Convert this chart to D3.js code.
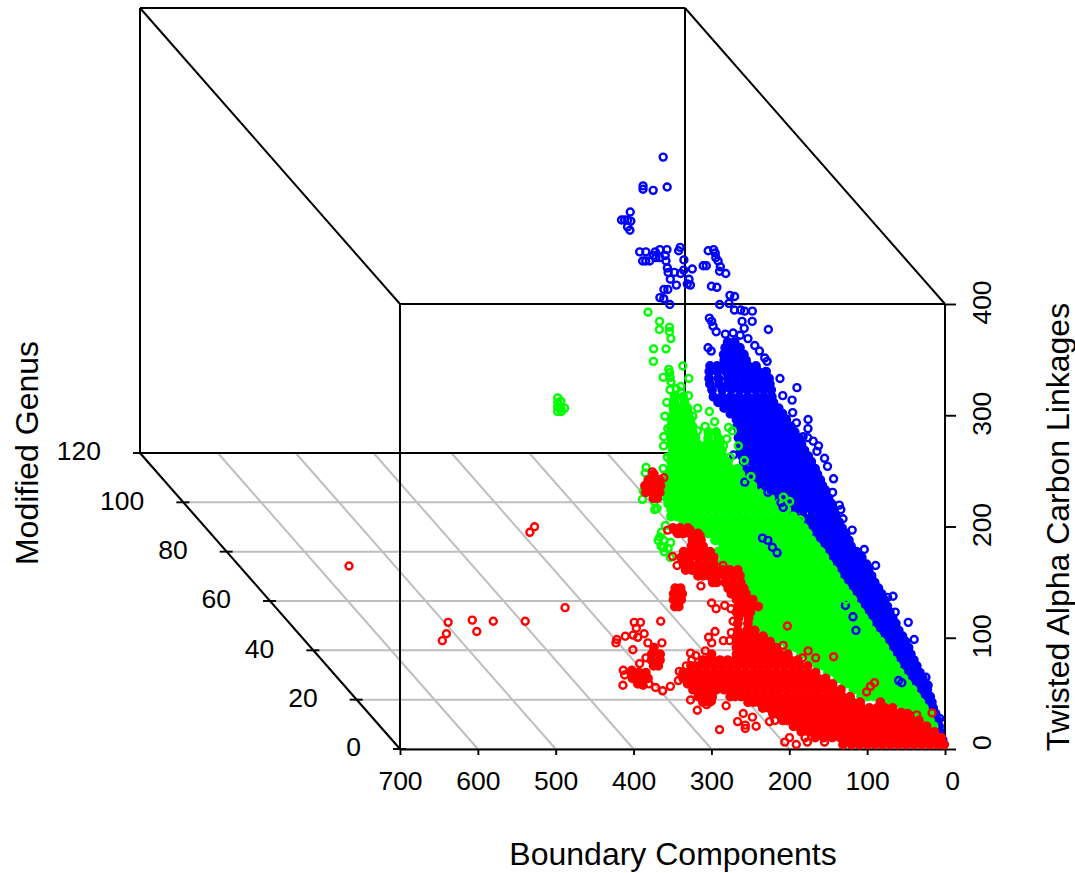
<!DOCTYPE html>
<html lang="en">
<head>
    <meta charset="UTF-8">
    <title>Boundary Components, Modified Genus, Twisted Alpha Carbon Linkages</title>
    <style>
        body {
            margin: 0;
            padding: 0;
            background-color: #fff;
        }

        text {
            font-family: "Liberation Sans", Arial, sans-serif;
            fill: #000;
        }

        .axis path {
            stroke: #000;
            stroke-width: 1.9;
        }

        .axis line {
            stroke: #000;
            stroke-width: 1.9;
        }

        .axis text {
            font-size: 26.5px;
        }

        .title {
            font-size: 32px;
        }
    </style>
</head>
<body>

<svg width="1075" height="873" id="graph"></svg>

<script src="https://d3js.org/d3.v7.min.js"></script>
<script>
    const boundaryTicks = [0, 100, 200, 300, 400, 500, 600, 700];
    const genusTicks = [0, 20, 40, 60, 80, 100, 120];
    const linkageTicks = [0, 100, 200, 300, 400];

    // Single points: [boundary, genus, linkages]
    const bluePoints = [
        [195,60,399],[232,56,382],[232,56,379],[201,56,381],[219,56,378],[254,54,363],[268,53,358],[264,53,358],
        [260,53,358],[256,53,357],[263,52,354],[260,52,351],[253,50,336],[245,50,336],[238,49,335],[233,50,336],
        [227,50,338],[218,50,338],[252,49,330],[248,49,330],[243,49,330],[235,49,333],[230,49,333],[223,49,335],
        [222,49,330],[223,48,326],[222,48,322],[222,47,318],[214,48,322],[201,50,340],[203,50,337],[199,49,331],
        [202,48,324],[191,48,325],[206,48,321],[198,47,318],[199,46,315],[203,46,316],[217,46,315],[233,46,311],
        [228,46,311],[241,45,306],[236,45,305],[231,44,302],[165,50,337],[158,50,338],[156,50,335],[158,49,333],
        [155,49,330],[155,48,327],[156,48,323],[177,48,328],[173,48,328],[148,48,321],[172,46,314],[165,46,313],
        [151,45,308],[145,45,307],[167,44,302],[155,44,303],[148,44,297],[140,44,297],[135,44,296],[125,44,296],
        [110,42,284],[141,43,289],[141,42,285],[128,43,289],[183,43,292],[180,43,289],[181,42,287],[177,42,282],
        [193,40,272],[189,40,269],[168,41,282],[158,41,283],[149,41,281],[139,41,278],[133,40,274],[127,40,269],
        [123,39,265],[120,39,262],[90,36,245],[99,35,236],[101,34,227],[99,33,220],[84,33,223],[87,32,217],
        [96,31,212],[90,31,211],[83,31,208],[79,30,206],[81,30,201],[74,29,197],[73,28,192],[68,27,183],
        [72,26,173],[69,24,166],[67,24,162],[67,23,156],[32,15,103],[25,14,92],[11,13,85],[9,11,74],
        [5,7,49],[5,6,44],[1,2,23],[0,1,6],[109,37,251],[111,35,240],[89,28,189],[81,26,175],
        [58,22,148],[48,20,135],[39,18,125],[25,15,104]
    ];

    // Blue points that show through the green mass
    const blueOver = [
        [155,26,173],[151,26,175],[159,26,179],[141,24,164],[141,25,166],[176,21,143],[169,21,141],[166,20,137],
        [160,20,132],[89,14,98],[82,13,90],[81,12,80],[36,7,44],[40,7,46],[191,29,200],[176,31,205],[182,27,180]
    ];

    const greenPoints = [
        [259,44,295],[247,43,289],[250,42,284],[237,42,286],[237,42,282],[238,41,278],[263,40,271],[247,40,271],
        [266,39,262],[249,38,257],[231,38,260],[250,37,252],[259,37,252],[226,37,251],[248,38,254],[249,37,248],
        [239,36,246],[253,36,243],[260,35,234],[239,36,241],[240,34,234],[223,34,231],[208,34,228],[204,33,221],
        [189,32,218],[184,32,215],[275,31,212],[267,32,217],[229,32,215],[194,31,210],[235,30,203],[182,30,206],
        [195,29,198],[177,29,195],[276,29,198],[306,28,191],[307,28,186],[284,28,190],[278,27,183],[315,26,174],
        [319,25,169],[306,24,162],[303,24,163],[304,25,167],[303,22,146],[310,21,141],[306,20,137],[294,21,139],
        [300,19,130],[305,20,133],[308,21,144],[303,21,141],[309,20,138],[300,20,136],[138,25,171],[130,25,167],
        [122,23,155],[112,21,139],[98,18,121],[89,17,112],[85,15,101],
        [400,35,238],[400,35,234],[396,35,235],[394,34,231],[403,34,228],[398,34,228],[403,34,232],[399,34,231],
        [245,36,244],[232,35,240],[268,33,226],[232,33,226],[278,30,206],[219,32,219],[201,30,206],[203,28,189],
        [174,27,185],[297,27,182],[295,25,172],[298,22,152]
    ];

    const redPoints = [
        [682,30,98],[466,22,151],[472,22,146],[449,14,96],[503,13,86],[544,13,86],[571,13,87],[568,12,79],
        [602,13,85],[607,12,77],[615,11,73],[329,13,86],[363,13,85],[355,13,85],[363,12,82],[353,12,77],
        [380,11,77],[391,11,74],[392,11,71],[370,11,78],[364,11,76],[373,10,67],[351,11,71],[333,11,71],
        [359,9,62],[370,8,59],[391,8,53],[392,7,51],[397,6,44],[380,8,53],[371,6,44],[361,7,43],
        [355,6,42],[346,6,39],[336,6,43],[323,7,46],[319,8,52],[310,8,57],[300,9,60],[299,10,64],
        [295,9,64],[280,10,66],[273,11,76],[262,12,79],[269,11,71],[254,11,73],[246,11,73],[258,15,98],
        [255,14,95],[236,14,95],[236,13,86],[241,12,78],[295,4,31],[258,3,18],[248,4,23],[239,3,22],
        [251,2,17],[251,2,14],[284,2,13],[203,1,4],[197,1,8],[191,0,4],[210,3,19],[174,1,4],
        [152,1,4],[148,10,66],[158,9,62],[141,9,62],[118,9,63],[11,2,28],[28,3,24],[169,12,84],
        [180,10,71],[79,6,43],[84,6,38],[71,7,44],[45,4,24],[298,28,187],[286,27,184],[286,22,148],
        [295,22,148],[266,22,148],[256,21,145],[297,19,131],[294,18,125],[269,16,111],[235,18,125],[244,14,98],
        [313,5,33],[307,4,26],[286,5,32],[270,4,30],[237,2,16],[217,3,18],[177,1,8]
    ];

    // Where the points pile up they merge into a solid mass, so those are kept in bins:
    // one genus and linkage per bin, and the boundary values found in that bin per series
    const binGenus = [
        0,1,2,2,3,4,4,5,5,6,7,7,8,8,9,10,10,11,11,12,13,13,14,14,15,16,16,17,17,18,19,19,20,20,
        21,22,22,23,23,24,25,25,26,26,27,28,28,29,29,30,31,31,32,32,33,34,34,35,35,36,37,37,38,38,39,40,40,41
    ];
    const binLinkages = [
        4,8,11,16,19,23,28,31,36,40,43,48,51,57,60,63,69,72,77,80,84,89,92,97,101,104,109,112,118,121,124,130,133,138,
        141,145,150,153,158,162,165,170,173,179,182,185,190,194,199,202,205,211,214,219,223,226,231,234,239,243,246,251,255,260,263,266,272,275
    ];

    const blueDense = [
        [],
        [2,8],
        [1,10],
        [2,12],
        [1,9,15],
        [1,9,16],
        [4,12,19],
        [3,11,19],
        [5,14,23],
        [6,16,27],
        [5,14,23,32],
        [9,19,29,39],
        [10,20,31,42],
        [14,24,35,47],
        [15,25,35,44,52],
        [16,26,36,45,54],
        [19,29,39,49,59],
        [20,30,41,51,61],
        [24,34,44,54,63,68],
        [26,36,46,56,65,70],
        [27,37,47,57,66,72],
        [31,40,50,60,69,77],
        [32,42,52,61,71,79],
        [35,45,55,64,74,83],
        [36,46,56,66,75,84],
        [37,47,57,66,75,83],
        [41,51,60,70,79,87],
        [43,53,62,71,80,89],
        [47,56,65,74,83,92],
        [48,57,66,75,83,91],
        [48,57,66,75,84,93],
        [54,63,72,81,90,99],
        [58,67,76,85,94,102],
        [65,74,83,91,100,108],
        [65,74,83,92,101,110],
        [66,75,84,93,102,110],
        [71,80,89,98,107,116],
        [72,82,92,102,112,121],
        [76,86,96,107,118,129],
        [76,86,96,105,115,124,133],
        [76,85,94,103,112,121,130,139],
        [80,90,100,110,119,129,139,148],
        [81,90,99,108,117,127,137,146,155],
        [85,94,103,112,121,130,139,148,157,166],
        [85,94,103,112,121,130,140,150,160,170],
        [86,96,105,115,125,135,145,155,165,175],
        [89,99,109,119,129,139,149,159,169,180],
        [91,101,111,120,129,138,148,158,168,178],
        [95,105,115,124,133,142,152,162,171,180],
        [97,107,116,125,134,143,152,161,170,179],
        [98,108,117,126,135,144,153,162,170,177],
        [101,111,120,129,138,147,156,165,172,179],
        [104,113,122,131,140,149,158,167,176],
        [109,118,127,136,145,153,161,170,178],
        [112,122,132,141,150,159,168,176],
        [114,124,134,143,152,162,172,181],
        [119,129,139,149,159,169,179,189],
        [123,133,143,153,163,173,184,194],
        [125,135,145,156,167,178,189,200],
        [123,133,143,153,163,174,186,199],
        [122,132,142,153,164,175,187,199],
        [123,133,143,154,165,176,188,200],
        [124,134,145,156,166,176,187,197],
        [137,147,157,167,177,187,196],
        [147,156,166,175],
        [147,156,165,173],
        [152,162,171],
        [156,165]
    ];

    const greenDense = [
        [],
        [],
        [],
        [9,20],
        [11,22],
        [8,16,24],
        [16,25,34,43],
        [18,27,36,45,55,64],
        [23,32,41,50,59,68,77,86,94],
        [25,34,43,52,61,70,79,88,95,101],
        [29,38,47,56,65,74,83,92,101,109],
        [34,43,52,61,70,79,88,98,108,118],
        [36,45,54,63,72,81,90,100,110,119,128],
        [41,50,59,68,77,86,96,106,116,126,134,141],
        [43,52,61,70,79,88,98,108,118,128,138,147],
        [45,54,63,72,81,90,99,108,118,128,138,148,157],
        [50,59,68,77,86,95,104,114,124,134,144,154,164,174],
        [52,61,70,79,88,97,106,116,126,136,146,155,164,174,183],
        [58,67,76,85,94,103,112,122,132,142,152,162,172,182,192],
        [61,70,79,88,97,106,115,125,135,145,155,165,175,185,194,203],
        [63,72,81,90,99,108,118,128,138,148,158,168,178,188,197,205,211],
        [68,77,86,95,104,114,124,134,144,154,164,174,184,194,204,213],
        [70,79,88,97,106,116,126,136,146,156,166,176,186,196,205,214],
        [75,84,93,102,111,121,131,141,151,161,171,181,191,201,211,220],
        [77,86,95,105,115,125,135,145,155,165,175,185,195,205,213,220],
        [80,89,98,107,116,126,136,146,156,166,176,186,196,206,214,221],
        [85,94,103,112,122,132,142,152,162,172,182,192,202,212,221],
        [88,97,106,116,126,136,146,156,166,176,186,196,206,215],
        [93,102,112,122,132,142,152,162,172,182,192,202,212],
        [94,103,113,123,133,143,153,163,173,183,193,203,209,218,227,233],
        [97,107,117,127,137,147,157,167,177,187,197,204,209,218,227,236],
        [102,112,122,132,142,152,162,172,182,192,202,213,222,231],
        [104,114,124,134,144,154,164,174,184,194,204,213,219,228,236],
        [110,120,130,140,150,160,170,180,190,200,210,220,229],
        [113,123,133,143,153,163,173,183,193,203,213,223,231,237],
        [115,125,135,145,155,165,175,185,195,205,215,225,235,243,250],
        [120,130,140,150,160,170,180,190,200,210,220,230,240,250,257,263],
        [125,135,145,155,165,175,185,195,205,215,225,235,245,255,264,272],
        [131,141,151,161,171,181,191,201,211,221,231,241,251,261,271,280,288],
        [137,147,157,167,177,187,197,207,217,227,237,247,257,267,276,285],
        [144,154,164,174,184,194,204,214,224,234,244,254,264,274,281,286],
        [155,165,175,185,195,205,215,225,235,245,255,265,275,282,287],
        [162,172,182,192,202,212,222,232,242,252,262,272,281,288],
        [175,185,195,205,215,225,235,245,255,265,275,282,288],
        [184,194,204,214,224,234,244,254,264,274,281],
        [185,195,205,215,225,235,245,255,265,272,278],
        [188,198,208,218,228,238,248,258,266,274],
        [198,208,218,228,238,248,258,265,271],
        [205,215,225,235,245,255,264,271],
        [203,213,224,234,244,254,260,266],
        [203,212,220,231,241,251,259,266],
        [205,218,234,244,253,260,266],
        [205,215,235,245,254,263],
        [235,245,254,263],
        [235,244,252,260],
        [235,245,254],
        [236,246,254],
        [237,250],
        [239,250],
        [],[],[],[],[],[],[],[],[]
    ];

    const redDense = [
        [1,10,20,30,40,50,60,70,80,90,100,110,120,131],
        [2,12,22,32,42,52,62,72,82,92,102,112,122,132,142,153,164],
        [8,18,28,38,48,58,68,78,88,98,108,118,128,138,148,158,168,179],
        [18,27,37,47,57,67,77,87,97,107,117,127,137,147,157,167,177,183,189],
        [25,35,45,55,65,75,85,95,105,115,125,135,145,155,165,175,185,193,200],
        [37,47,57,67,77,87,97,107,117,127,137,147,157,167,177,187,197,204,210],
        [56,66,76,86,96,106,116,126,136,146,156,166,176,186,196,206,215,223],
        [69,95,105,115,125,135,145,155,165,175,185,195,205,215,225,232,239,289,297],
        [108,118,128,138,148,158,168,178,188,198,208,218,228,238,248,256,262,285,294,303],
        [117,127,137,147,157,167,177,187,197,207,217,227,237,247,257,267,277,287,297,307],
        [125,135,145,155,165,175,185,195,205,215,225,235,245,255,265,275,285,295,303,311,370,375],
        [134,144,154,164,174,184,194,204,214,224,234,244,254,264,274,284,294,304,311,317,362,372,382],
        [144,154,164,174,184,194,204,214,224,234,244,254,264,274,284,294,304,314,362,371,379],
        [154,164,174,184,194,204,214,224,234,244,254,264,274,284,294,304,346,352],
        [164,174,184,194,204,214,224,234,244,254,264,274,280,286,341,352],
        [174,184,194,204,214,224,232,240,272,338,349],
        [189,199,209,219,230,240,346],
        [194,204,214,223,230,237],
        [203,213,223,230,237],
        [211,221,233],
        [217,230],
        [216,229],
        [211,220,229],
        [201,211,220,227,303,308],
        [205,215,226,297,307],
        [211,220,230,293,304],
        [214,224,234,295,302],
        [215,225,235,246,251],
        [216,226,236,246,256,264,270],
        [216,226,236,246,256,266,275,283],
        [244,254,264,274,283],
        [244,254,264,275,286],
        [246,255,264,272,280],
        [255,263,270],
        [255,266],
        [256,266,275,282],
        [269,279,288],
        [],[],[],[],
        [300,305],
        [294,303,312],
        [293,303,313],
        [291,300,306],
        [296],
        [],[],[],[],[],[],[],[],[],[],[],[],[],[],[],[],[],[],[],[]
    ];

    const svg = d3.select("#graph");

    // Scales of the front face, the genus axis moves a point back along the floor diagonal
    const xScale = d3.scaleLinear().domain([0, 700]).range([945, 400]);
    const zScale = d3.scaleLinear().domain([0, 400]).range([749, 304]);
    const depthX = d3.scaleLinear().domain([0, 120]).range([0, -260]);
    const depthY = d3.scaleLinear().domain([0, 120]).range([0, -296]);

    const project = d => [xScale(d[0]) + depthX(d[1]), zScale(d[2]) + depthY(d[1])];

    const unpackBins = bins => bins.flatMap((list, i) => list.map(b => [b, binGenus[i], binLinkages[i]]));

    const gridG = svg.append("g");

    // Grey floor grid
    gridG.selectAll(".gridX")
        .data(boundaryTicks)
        .enter().append("line")
        .attr("x1", d => xScale(d))
        .attr("y1", zScale(0))
        .attr("x2", d => xScale(d) + depthX(120))
        .attr("y2", zScale(0) + depthY(120))
        .attr("stroke", "#bebebe")
        .attr("stroke-width", 2);

    gridG.selectAll(".gridY")
        .data(genusTicks)
        .enter().append("line")
        .attr("x1", d => xScale(700) + depthX(d))
        .attr("y1", d => zScale(0) + depthY(d))
        .attr("x2", d => xScale(0) + depthX(d))
        .attr("y2", d => zScale(0) + depthY(d))
        .attr("stroke", "#bebebe")
        .attr("stroke-width", 2);

    // Box edges
    const corner = (b, g, t) => project([b, g, t]);
    const boxEdges = [
        [corner(700, 120, 0), corner(700, 120, 400)],
        [corner(700, 120, 400), corner(0, 120, 400)],
        [corner(0, 120, 400), corner(0, 120, 0)],
        [corner(700, 120, 0), corner(0, 120, 0)],
        [corner(700, 120, 400), corner(700, 0, 400)],
        [corner(0, 120, 400), corner(0, 0, 400)],
        [corner(700, 0, 400), corner(0, 0, 400)],
        [corner(700, 0, 400), corner(700, 0, 0)],
        [corner(0, 0, 400), corner(0, 0, 0)],
        [corner(700, 120, 0), corner(700, 0, 0)],
        [corner(0, 120, 0), corner(0, 0, 0)]
    ];

    gridG.selectAll(".edge")
        .data(boxEdges)
        .enter().append("path")
        .attr("d", d3.line())
        .attr("fill", "none")
        .attr("stroke", "#000")
        .attr("stroke-width", 2);

    // Axes
    svg.append("g")
        .attr("class", "axis")
        .attr("transform", `translate(0,${zScale(0)})`)
        .call(d3.axisBottom(xScale).tickValues(boundaryTicks).tickSize(6).tickPadding(16).tickSizeOuter(0))
        .call(g => g.selectAll("text").filter(d => d === 0).attr("dx", 7));

    svg.append("g")
        .attr("class", "axis")
        .attr("transform", `translate(${xScale(0)},0)`)
        .call(d3.axisRight(zScale).tickValues(linkageTicks).tickSize(11).tickSizeOuter(0))
        .call(g => g.select(".domain").remove())
        .call(g => g.selectAll("text")
            .attr("x", 0)
            .attr("y", 0)
            .attr("dy", "0.35em")
            .attr("text-anchor", "middle")
            .attr("transform", d => `translate(37,${d === 0 ? -7 : -2}) rotate(-90)`));

    const genusG = svg.append("g").attr("class", "axis");

    genusG.selectAll("line")
        .data(genusTicks)
        .enter().append("line")
        .attr("x1", d => xScale(700) + depthX(d) - 7)
        .attr("x2", d => xScale(700) + depthX(d) + 6)
        .attr("y1", d => zScale(0) + depthY(d))
        .attr("y2", d => zScale(0) + depthY(d));

    genusG.selectAll("text")
        .data(genusTicks)
        .enter().append("text")
        .attr("x", d => xScale(700) + depthX(d) - 39)
        .attr("y", d => zScale(0) + depthY(d) - 2)
        .attr("dy", "0.35em")
        .attr("text-anchor", "end")
        .text(d => d);

    // Points, back series first
    const drawDots = (data, colour) => svg.append("g")
        .selectAll("circle")
        .data(data)
        .enter().append("circle")
        .attr("cx", d => project(d)[0])
        .attr("cy", d => project(d)[1])
        .attr("r", 3.5)
        .attr("fill", "none")
        .attr("stroke", colour)
        .attr("stroke-width", 2.4);

    const drawMass = (bins, colour) => drawDots(unpackBins(bins), colour)
        .attr("r", 3.9)
        .attr("stroke-width", 2)
        .attr("fill", colour);

    drawMass(blueDense, "#0000ff");
    drawDots(bluePoints, "#0000ff");
    drawMass(greenDense, "#00ff00");
    drawDots(blueOver, "#0000ff");
    drawDots(greenPoints, "#00ff00");
    drawMass(redDense, "#ff0000");
    drawDots(redPoints, "#ff0000");

    // Axis titles
    svg.append("text")
        .attr("class", "title")
        .attr("x", 673)
        .attr("y", 865)
        .attr("text-anchor", "middle")
        .text("Boundary Components");

    svg.append("text")
        .attr("class", "title")
        .attr("transform", "translate(38,453) rotate(-90)")
        .attr("text-anchor", "middle")
        .text("Modified Genus");

    svg.append("text")
        .attr("class", "title")
        .attr("transform", "translate(1069,527) rotate(-90)")
        .attr("text-anchor", "middle")
        .text("Twisted Alpha Carbon Linkages");
</script>
</body>
</html>
